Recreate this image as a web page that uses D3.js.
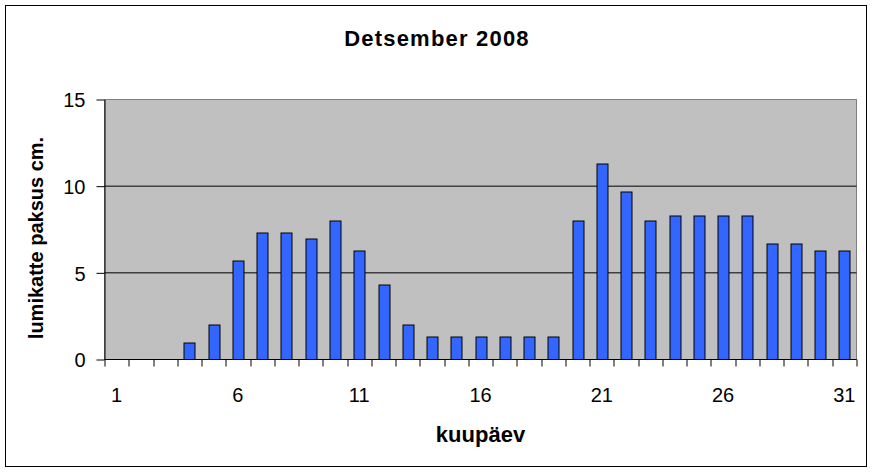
<!DOCTYPE html>
<html>
<head>
<meta charset="utf-8">
<script src="https://cdn.jsdelivr.net/npm/d3@7"></script>
<style>
  body { margin: 0; background: #fff; }
  svg text { font-family: "Liberation Sans", Arial, sans-serif; fill: #000; }
</style>
</head>
<body>
<div id="chart"></div>
<script>
// Snow depth per day, December 2008
const days = d3.range(1, 32);
const depth = [0, 0, 0, 1, 2, 5.7, 7.3, 7.3, 7, 8, 6.3, 4.3, 2, 1.3, 1.3, 1.3,
               1.3, 1.3, 1.3, 8, 11.3, 9.67, 8, 8.3, 8.3, 8.3, 8.3, 6.7, 6.7, 6.3, 6.3];
const xTickLabels = [1, 6, 11, 16, 21, 26, 31];
const yTicks = [0, 5, 10, 15];

const W = 874, H = 472;
const margin = {top: 99.5, right: 17.5, bottom: 112.5, left: 104.5};
const width = W - margin.left - margin.right;
const height = H - margin.top - margin.bottom;

const svg = d3.select('#chart').append('svg')
    .attr('width', W)
    .attr('height', H);

// Outer frame
svg.append('rect')
    .attr('x', 5.5).attr('y', 5.5)
    .attr('width', 861).attr('height', 461)
    .attr('fill', '#fff')
    .attr('stroke', '#000')
    .attr('stroke-width', 1);

// Title
svg.append('text')
    .attr('x', 437).attr('y', 46)
    .attr('text-anchor', 'middle')
    .style('font-size', '22px')
    .style('font-weight', 'bold')
    .style('letter-spacing', '1.2px')
    .text('Detsember 2008');

const g = svg.append('g')
    .attr('transform', `translate(${margin.left},${margin.top})`);

// Scales
const x = d3.scaleBand()
    .domain(days)
    .range([0, width])
    .paddingInner(0.55)
    .paddingOuter(0.275);

const xEdge = d3.scaleLinear().domain([0, days.length]).range([0, width]);

const y = d3.scaleLinear().domain([0, 15]).range([height, 0]);

// Plot area
g.append('rect')
    .attr('width', width).attr('height', height)
    .attr('fill', '#c0c0c0')
    .attr('stroke', '#808080')
    .attr('stroke-width', 1);

// Gridlines
g.append('g')
    .selectAll('line')
    .data(yTicks.filter(d => d > 0 && d < 15))
    .enter().append('line')
    .attr('x1', 0).attr('x2', width)
    .attr('y1', d => y(d)).attr('y2', d => y(d))
    .attr('stroke', '#000');

// Bars
g.append('g')
    .selectAll('rect')
    .data(days.map((d, i) => ({day: d, v: depth[i]})).filter(d => d.v > 0))
    .enter().append('rect')
    .attr('x', d => Math.round(x(d.day)) + 0.5)
    .attr('y', d => Math.round(y(d.v)) + 0.5)
    .attr('width', Math.round(x.bandwidth()))
    .attr('height', d => height - Math.round(y(d.v)) - 0.5)
    .attr('fill', '#3366ff')
    .attr('stroke', '#000')
    .attr('stroke-width', 1);

// Y axis
const yAxis = g.append('g')
    .call(d3.axisLeft(y).tickValues(yTicks).tickSize(8).tickPadding(11).tickSizeOuter(0));
yAxis.select('.domain').attr('stroke', '#000');
yAxis.selectAll('.tick line').attr('stroke', '#000');
yAxis.selectAll('.tick text')
    .attr('font-family', null)
    .style('font-size', '20px')
    .attr('dy', '0.36em');

// X axis line and boundary ticks
const xAxis = g.append('g').attr('transform', `translate(0,${height})`);
xAxis.append('line')
    .attr('x1', 0).attr('x2', width)
    .attr('stroke', '#000');
xAxis.selectAll('.edge')
    .data(d3.range(0, days.length + 1))
    .enter().append('line')
    .attr('class', 'edge')
    .attr('x1', d => Math.round(xEdge(d)) + 0.5)
    .attr('x2', d => Math.round(xEdge(d)) + 0.5)
    .attr('y1', 0).attr('y2', 7)
    .attr('stroke', '#000');
xAxis.selectAll('.lbl')
    .data(xTickLabels)
    .enter().append('text')
    .attr('class', 'lbl')
    .attr('x', d => x(d) + x.bandwidth() / 2)
    .attr('y', 42)
    .attr('text-anchor', 'middle')
    .style('font-size', '20px')
    .text(d => d);

// Axis titles
svg.append('text')
    .attr('x', margin.left + width / 2)
    .attr('y', 442)
    .attr('text-anchor', 'middle')
    .style('font-size', '22px')
    .style('font-weight', 'bold')
    .text('kuupäev');

svg.append('text')
    .attr('transform', 'translate(43,238) rotate(-90)')
    .attr('text-anchor', 'middle')
    .style('font-size', '20px')
    .style('font-weight', 'bold')
    .text('lumikatte paksus cm.');
</script>
</body>
</html>
